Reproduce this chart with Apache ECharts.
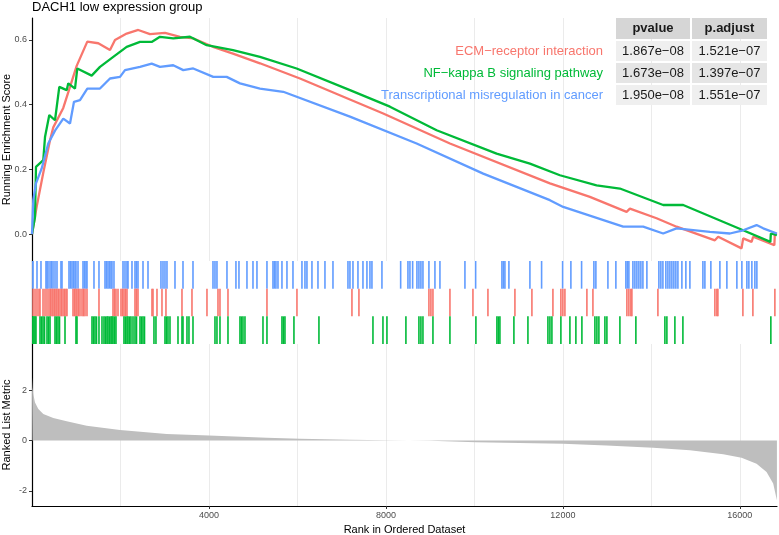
<!DOCTYPE html>
<html>
<head>
<meta charset="utf-8">
<script src="https://cdn.jsdelivr.net/npm/echarts@6/dist/echarts.min.js"></script>
<style>
  html, body { margin: 0; padding: 0; background: #fff; }
  #main { width: 779px; height: 535px; }
</style>
</head>
<body>
<div id="main"></div>
<script>
// gene sets, same order as the table
var setNames = ['ECM−receptor interaction', 'NF−kappa B signaling pathway', 'Transcriptional misregulation in cancer'];
var pvalues = ['1.867e−08', '1.673e−08', '1.950e−08'];
var padjust = ['1.521e−07', '1.397e−07', '1.551e−07'];
var tableHeader = ['pvalue', 'p.adjust'];

// running enrichment score, [rank, score]
var esRed = [[0,0],[106,0.085],[255,0.19],[407,0.29],[481,0.33],[707,0.39],[859,0.455],[1010,0.52],[1250,0.595],[1498,0.59],[1763,0.569],[1876,0.6],[2140,0.62],[2402,0.631],[2667,0.618],[3006,0.622],[3345,0.61],[3639,0.605],[4091,0.579],[4543,0.558],[5153,0.528],[6057,0.481],[7939,0.373],[9447,0.28],[11707,0.157],[12611,0.115],[13440,0.069],[13515,0.079],[14118,0.049],[14570,0.023],[15436,-0.019],[15510,-0.008],[16039,-0.044],[16075,-0.013],[16265,-0.024],[16301,-0.008],[16780,-0.034],[16792,0.002],[16838,0]];
var esGreen = [[0,0],[68,0.053],[90,0.208],[255,0.229],[294,0.3],[391,0.368],[520,0.352],[617,0.455],[784,0.445],[820,0.466],[972,0.45],[1024,0.512],[1349,0.49],[1537,0.517],[1837,0.548],[2140,0.579],[2441,0.594],[2705,0.594],[2893,0.61],[3193,0.605],[3571,0.61],[3948,0.584],[4543,0.569],[5153,0.548],[5982,0.512],[7187,0.445],[8091,0.394],[9146,0.321],[10502,0.249],[11255,0.218],[11933,0.182],[12762,0.151],[13289,0.141],[14267,0.09],[14719,0.09],[16075,0.012],[16690,-0.024],[16701,0.002],[16838,-0.003]];
var esBlue = [[0,0],[29,0.105],[90,0.157],[219,0.203],[368,0.28],[520,0.32],[707,0.357],[859,0.342],[949,0.409],[1085,0.414],[1250,0.45],[1537,0.45],[1763,0.481],[1989,0.486],[2102,0.507],[2441,0.517],[2705,0.527],[2893,0.517],[3193,0.522],[3419,0.507],[3645,0.512],[4097,0.486],[4400,0.486],[4701,0.466],[5153,0.45],[5679,0.44],[7187,0.363],[8694,0.28],[10199,0.187],[11707,0.105],[12007,0.084],[13363,0.023],[13815,0.023],[14267,0.002],[14570,0.018],[15323,0.007],[15775,0.002],[16075,0.012],[16378,0.028],[16528,0.018],[16838,0.002]];

// positions of the genes of each set in the ranked list
var hitsRed = [23,68,113,158,181,249,294,339,384,418,452,475,509,542,565,599,633,667,701,735,768,791,927,961,994,1017,1051,1085,1130,1164,1198,1243,1514,1831,1865,1898,1944,2011,2045,2079,2113,2147,2328,2362,2396,2712,2735,2825,2938,3028,3390,3616,3955,4204,4249,4430,5311,5989,7232,7390,8972,9017,9063,9447,9967,10306,10916,11300,11775,11955,12000,12046,12543,12679,13447,13492,13537,13560,14148,15436,15481,15504,16069,16295,16792];
var hitsGreen = [0,23,45,68,90,181,215,249,283,339,373,407,520,554,588,622,746,994,1017,1356,1390,1424,1458,1514,1582,1627,1661,1695,1718,1752,1785,1808,1831,1865,1898,2079,2113,2147,2170,2204,2237,2283,2328,2362,2441,2475,2509,2543,2757,2802,3006,3040,3074,3119,3300,3390,3413,3503,3548,3639,4136,4181,4249,4430,4701,4735,4769,4814,5221,5311,5650,5684,5718,5921,6486,7707,7933,8023,8452,8746,8791,8837,9063,9447,10034,10509,10543,10577,10893,11210,11662,11707,11752,11955,12159,12294,12430,12724,12769,12814,12950,12995,13289,13650,14306,14351,14532,14713,16701];
var hitsBlue = [0,23,113,203,316,339,362,407,441,475,520,565,655,678,836,870,904,938,972,994,1040,1153,1187,1220,1243,1401,1514,1650,1684,1718,1752,1785,1808,1853,2057,2102,2147,2170,2260,2328,2362,2396,2509,2622,2915,2961,3006,3051,3232,3413,3639,4091,4136,4181,4407,4610,4678,4859,4995,5085,5311,5447,5480,5514,5560,5650,5763,5899,6102,6170,6215,6328,6464,6622,6803,7142,7187,7255,7368,7481,7571,7639,7684,7910,8333,8498,8543,8604,8701,8746,8791,8837,8972,9108,9221,9786,10028,10622,10656,10690,10780,11255,11519,11994,12181,12423,12701,12746,13018,13198,13424,13458,13492,13583,13628,13673,13718,13763,13809,13899,14170,14215,14261,14328,14374,14419,14464,14509,14554,14600,14690,14780,14871,15165,15210,15345,15549,15707,15933,16046,16159,16204,16272,16340,16385];

// ranked list metric, [rank, value]
var rankedMetric = [[0,2.5],[10,2.1],[29,1.84],[68,1.51],[143,1.25],[255,1.05],[481,0.89],[784,0.76],[1236,0.59],[1989,0.42],[3044,0.26],[4000,0.2],[5304,0.105],[6057,0.066],[7187,0.026],[8016,0.005],[9000,-0.01],[10034,-0.066],[12007,-0.13],[12988,-0.2],[14042,-0.29],[14871,-0.39],[15624,-0.55],[16039,-0.68],[16378,-0.92],[16604,-1.25],[16754,-1.71],[16838,-2.37]];

var rankTicks = [4000, 8000, 12000, 16000];
var esTicks = [0, 0.2, 0.4, 0.6];
var metricTicks = [-2, 0, 2];

var nRanks = 16840;
var colors = ['#F8766D', '#00BA38', '#619CFF'];
var font = 'Liberation Sans, Arial, sans-serif';

var chart = echarts.init(document.getElementById('main'));

// rug rows: blue on top, red middle, green bottom
var rugData = [];
hitsBlue.forEach(function (r) { rugData.push([r, 2, 2]); });
hitsRed.forEach(function (r) { rugData.push([r, 1, 0]); });
hitsGreen.forEach(function (r) { rugData.push([r, 0, 1]); });

function renderRug(params, api) {
  var top = api.coord([api.value(0), api.value(1) + 1]);
  var bottom = api.coord([api.value(0), api.value(1)]);
  return {
    type: 'rect',
    shape: { x: top[0] - 0.8, y: top[1], width: 1.6, height: bottom[1] - top[1] },
    style: { fill: colors[api.value(2)] }
  };
}

var gridLine = { show: true, showMinLine: false, showMaxLine: false, lineStyle: { color: '#ebebeb', width: 1 } };
var hiddenX = { type: 'value', min: 0, max: nRanks, axisLine: { show: false }, axisTick: { show: false }, axisLabel: { show: false }, splitLine: { show: false } };

// title and p-value table drawn as graphic
var graphics = [{
  type: 'text', left: 32, top: 1,
  style: { text: 'DACH1 low expression group', fontSize: 13, fontFamily: font, fill: '#000' }
}];
var colX = [616, 692], colW = [74, 75];
tableHeader.forEach(function (h, i) {
  graphics.push({ type: 'rect', shape: { x: colX[i], y: 18, width: colW[i], height: 21 }, style: { fill: '#d6d6d6' }, z: 100 });
  graphics.push({ type: 'text', x: colX[i] + colW[i] / 2, y: 28.5, z: 101,
    style: { text: h, fontSize: 13, fontWeight: 'bold', fontFamily: font, fill: '#1a1a1a', align: 'center', verticalAlign: 'middle' } });
});
var rowY = [41, 63, 85];
setNames.forEach(function (name, j) {
  var fill = j === 1 ? '#e5e5e5' : '#efefef';
  [pvalues[j], padjust[j]].forEach(function (v, i) {
    graphics.push({ type: 'rect', shape: { x: colX[i], y: rowY[j], width: colW[i], height: 20 }, style: { fill: fill }, z: 100 });
    graphics.push({ type: 'text', x: colX[i] + colW[i] / 2, y: rowY[j] + 10, z: 101,
      style: { text: v, fontSize: 13, fontFamily: font, fill: '#1a1a1a', align: 'center', verticalAlign: 'middle' } });
  });
  graphics.push({ type: 'text', x: 603, y: rowY[j] + 10, z: 101,
    style: { text: name, fontSize: 13, fontFamily: font, fill: colors[j], align: 'right', verticalAlign: 'middle' } });
});

var gridBase = { left: 32, width: 745, containLabel: false, outerBoundsMode: 'none' };

var option = {
  animation: false,
  backgroundColor: '#fff',
  textStyle: { fontFamily: font },
  graphic: graphics,
  grid: [
    Object.assign({ top: 18, height: 243 }, gridBase),
    Object.assign({ top: 261, height: 83 }, gridBase),
    Object.assign({ top: 344, height: 162 }, gridBase)
  ],
  xAxis: [
    { type: 'value', gridIndex: 0, min: 0, max: nRanks, interval: 2000, axisLine: { show: false }, axisTick: { show: false }, axisLabel: { show: false }, splitLine: gridLine },
    Object.assign({ gridIndex: 1 }, hiddenX),
    { type: 'value', gridIndex: 2, min: 0, max: nRanks, interval: 2000, axisLine: { show: false }, axisTick: { show: false }, axisLabel: { show: false }, splitLine: gridLine },
    { type: 'value', gridIndex: 2, min: 0, max: nRanks, position: 'bottom',
      axisLine: { show: true, onZero: false, lineStyle: { color: '#000', width: 1.2 } },
      axisTick: { show: true, customValues: rankTicks, length: 3, lineStyle: { color: '#333' } },
      axisLabel: { show: true, customValues: rankTicks, fontSize: 9, color: '#4d4d4d', margin: 5, formatter: function (v) { return String(v); } },
      splitLine: { show: false },
      name: 'Rank in Ordered Dataset', nameLocation: 'middle', nameGap: 18, nameMoveOverlap: false,
      nameTextStyle: { fontSize: 11, color: '#000', fontFamily: font } }
  ],
  yAxis: [
    { type: 'value', gridIndex: 0, min: -0.083, max: 0.668,
      axisLine: { show: true, lineStyle: { color: '#000', width: 1.2 } },
      axisTick: { show: true, customValues: esTicks, length: 3, lineStyle: { color: '#333' } },
      axisLabel: { show: true, customValues: esTicks, fontSize: 9, color: '#4d4d4d', margin: 5, formatter: function (v) { return v.toFixed(1); } },
      splitLine: { show: false },
      name: 'Running Enrichment Score', nameLocation: 'middle', nameGap: 20, nameMoveOverlap: false,
      nameTextStyle: { fontSize: 11, color: '#000', fontFamily: font } },
    { type: 'value', gridIndex: 1, min: 0, max: 3,
      axisLine: { show: true, lineStyle: { color: '#000', width: 1.2 } },
      axisTick: { show: false }, axisLabel: { show: false }, splitLine: { show: false } },
    { type: 'value', gridIndex: 2, min: -2.6, max: 3.83,
      axisLine: { show: true, onZero: false, lineStyle: { color: '#000', width: 1.2 } },
      axisTick: { show: true, customValues: metricTicks, length: 3, lineStyle: { color: '#333' } },
      axisLabel: { show: true, customValues: metricTicks, fontSize: 9, color: '#4d4d4d', margin: 5 },
      splitLine: { show: false },
      name: 'Ranked List Metric', nameLocation: 'middle', nameGap: 20, nameMoveOverlap: false,
      nameTextStyle: { fontSize: 11, color: '#000', fontFamily: font } }
  ],
  series: [
    { name: setNames[0], type: 'line', xAxisIndex: 0, yAxisIndex: 0, data: esRed, showSymbol: false, lineStyle: { color: colors[0], width: 2.3 }, itemStyle: { color: colors[0] } },
    { name: setNames[1], type: 'line', xAxisIndex: 0, yAxisIndex: 0, data: esGreen, showSymbol: false, lineStyle: { color: colors[1], width: 2.3 }, itemStyle: { color: colors[1] } },
    { name: setNames[2], type: 'line', xAxisIndex: 0, yAxisIndex: 0, data: esBlue, showSymbol: false, lineStyle: { color: colors[2], width: 2.3 }, itemStyle: { color: colors[2] } },
    { type: 'custom', xAxisIndex: 1, yAxisIndex: 1, data: rugData, renderItem: renderRug, clip: true },
    { type: 'line', xAxisIndex: 2, yAxisIndex: 2, data: rankedMetric, showSymbol: false,
      lineStyle: { width: 0 }, areaStyle: { color: '#bebebe', opacity: 1, origin: 0 }, itemStyle: { color: '#bebebe' } }
  ]
};

chart.setOption(option);
</script>
</body>
</html>
